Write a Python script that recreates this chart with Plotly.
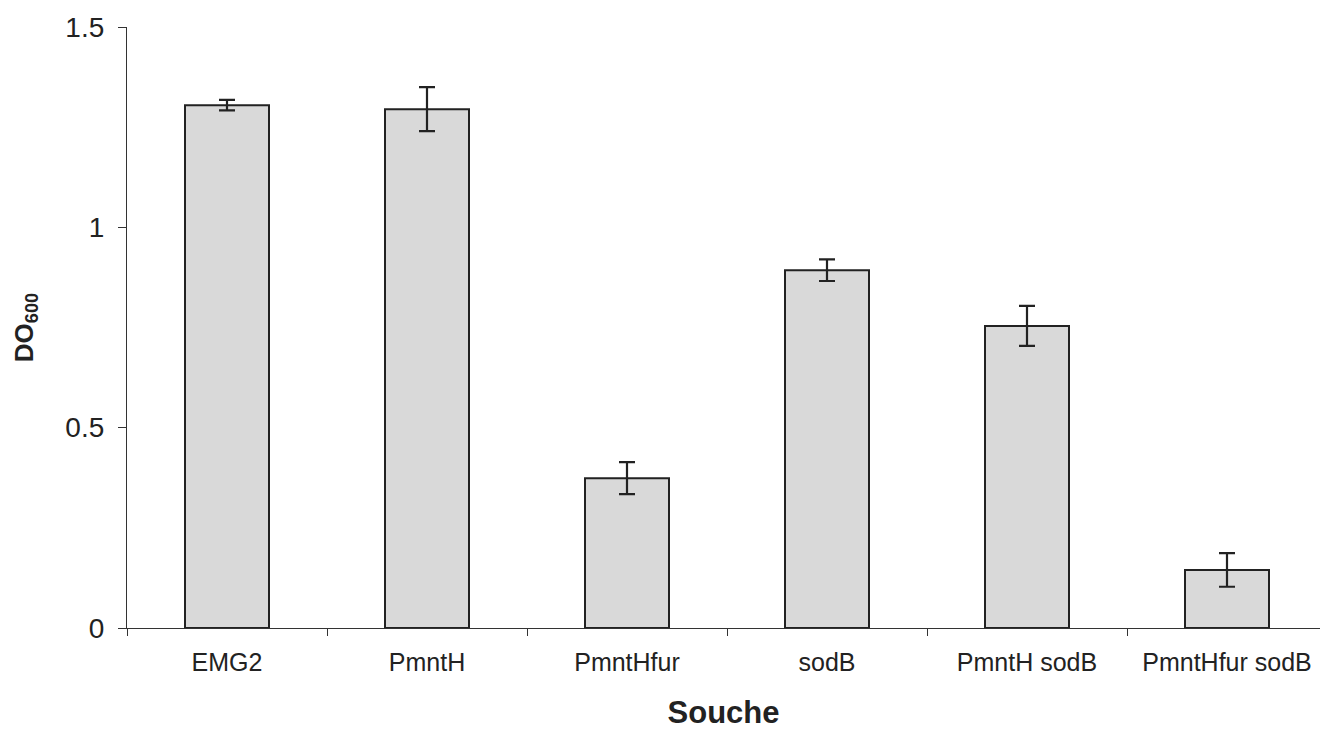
import plotly.graph_objects as go

categories = ["EMG2", "PmntH", "PmntHfur", "sodB", "PmntH sodB", "PmntHfur sodB"]
values = [1.305, 1.295, 0.374, 0.893, 0.754, 0.145]
errors = [0.013, 0.055, 0.040, 0.027, 0.050, 0.042]
ytick_vals = [0, 0.5, 1, 1.5]
ytick_text = ["0", "0.5", "1", "1.5"]

fig = go.Figure()
fig.add_trace(go.Bar(
    x=categories, y=values,
    width=0.42,
    marker=dict(color="#d9d9d9", line=dict(color="#222222", width=2)),
    error_y=dict(type="data", array=errors, visible=True, color="#222222",
                 thickness=2.2, width=8),
))

fig.update_layout(
    width=1320, height=736,
    margin=dict(l=127, r=0, t=27, b=108),
    paper_bgcolor="white", plot_bgcolor="white",
    font=dict(family="Liberation Sans, Arial, sans-serif", color="#222222"),
    showlegend=False,
)
fig.update_xaxes(
    range=[-0.5, 5.465],
    showline=True, linecolor="#333333", linewidth=1.2,
    ticks="outside", tickson="boundaries", ticklen=7, tickcolor="#333333",
    tickfont=dict(size=25), ticklabelstandoff=12,
    title=dict(text="<b>Souche</b>", font=dict(size=31), standoff=26),
    showgrid=False,
)
fig.update_yaxes(
    range=[0, 1.5],
    tickvals=ytick_vals, ticktext=ytick_text,
    showline=True, linecolor="#333333", linewidth=1.2,
    ticks="outside", ticklen=8, tickcolor="#333333",
    tickfont=dict(size=28), ticklabelstandoff=8,
    title=dict(text="<b>DO<sub>600</sub></b>", font=dict(size=26), standoff=24),
    showgrid=False, zeroline=False,
)

fig.write_html("out.html")
